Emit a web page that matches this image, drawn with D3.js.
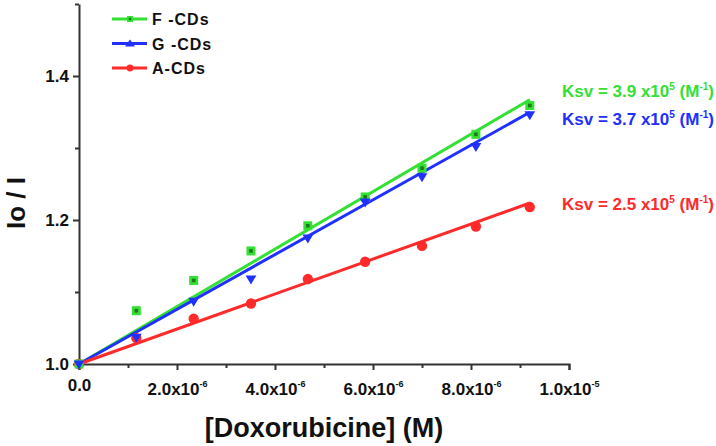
<!DOCTYPE html>
<html>
<head>
<meta charset="utf-8">
<script src="https://cdn.jsdelivr.net/npm/d3@7"></script>
<style>
  body { margin: 0; background: #fff; }
  svg { display: block; font-family: Arial, "Liberation Sans", sans-serif; }
</style>
</head>
<body>
<div id="chart"></div>
<script>
// --- Data ---
const concentration = [0, 1.17e-6, 2.34e-6, 3.51e-6, 4.67e-6, 5.84e-6, 7.0e-6, 8.1e-6, 9.2e-6];
const fCDs = [1.0, 1.074, 1.116, 1.157, 1.192, 1.232, 1.272, 1.319, 1.359];
const gCDs = [1.0, 1.037, 1.087, 1.118, 1.175, 1.225, 1.26, 1.302, 1.346];
const aCDs = [1.0, 1.036, 1.063, 1.084, 1.118, 1.142, 1.164, 1.191, 1.218];
const seriesNames = ["F -CDs", "G -CDs", "A-CDs"];
const fitSlopes = [3.99e4, 3.8e4, 2.43e4]; // slope of drawn fit lines (per M)
const ksvValues = ["3.9", "3.7", "2.5"];
const xTicks = [0, 2e-6, 4e-6, 6e-6, 8e-6, 1e-5];
const yTicks = [1.0, 1.2, 1.4];

const W = 716, H = 446;
const colors = ["#33e033", "#2030ff", "#ff2a2a"];
const values = [fCDs, gCDs, aCDs];

const svg = d3.select("#chart").append("svg")
    .attr("width", W)
    .attr("height", H);

const x = d3.scaleLinear().domain([0, 1e-5]).range([79, 569]);
const y = d3.scaleLinear().domain([1.0, 1.5]).range([364, 4]);

// --- Axes ---
const axisColor = "#333";

// minor ticks first
svg.append("g")
    .attr("transform", "translate(0,364)")
    .call(d3.axisBottom(x).tickValues(d3.range(1e-6, 1e-5, 2e-6)).tickSize(4).tickFormat(""))
    .call(g => g.select(".domain").remove())
    .selectAll("line").attr("stroke", axisColor).attr("stroke-width", 2);

svg.append("g")
    .attr("transform", "translate(79,0)")
    .call(d3.axisLeft(y).tickValues([1.1, 1.3, 1.5]).tickSize(4).tickFormat(""))
    .call(g => g.select(".domain").remove())
    .selectAll("line").attr("stroke", axisColor).attr("stroke-width", 2);

const xAxis = svg.append("g")
    .attr("transform", "translate(0,364)")
    .call(d3.axisBottom(x).tickValues(xTicks).tickSizeOuter(0).tickSize(6).tickFormat(""));

xAxis.select(".domain").attr("stroke", axisColor).attr("stroke-width", 2);
xAxis.selectAll(".tick line").attr("stroke", axisColor).attr("stroke-width", 2);

xAxis.selectAll(".tick").append("text")
    .attr("y", 31)
    .attr("fill", "#111")
    .attr("font-size", 17)
    .attr("font-weight", "bold")
    .attr("text-anchor", "middle")
    .each(function(d) {
        const t = d3.select(this);
        if (d === 0) {
            t.attr("y", 27).text("0.0");
            return;
        }
        const exp = Math.floor(Math.log10(d) + 1e-9);
        const mant = d / Math.pow(10, exp);
        t.append("tspan").text(mant.toFixed(1) + "x10");
        t.append("tspan").attr("font-size", 9).attr("dy", -8).text(exp);
    });

const yAxis = svg.append("g")
    .attr("transform", "translate(79,0)")
    .call(d3.axisLeft(y).tickValues(yTicks).tickSize(6).tickSizeOuter(0).tickFormat(d3.format(".1f")));

yAxis.select(".domain").attr("stroke", axisColor).attr("stroke-width", 2);
yAxis.selectAll(".tick line").attr("stroke", axisColor).attr("stroke-width", 2);
yAxis.selectAll(".tick text")
    .attr("x", -10)
    .attr("fill", "#111")
    .attr("font-size", 17)
    .attr("font-weight", "bold")
    .attr("font-family", "Arial, 'Liberation Sans', sans-serif");

// axis titles
svg.append("text")
    .attr("x", 324)
    .attr("y", 437)
    .attr("text-anchor", "middle")
    .attr("font-size", 27)
    .attr("font-weight", "bold")
    .attr("fill", "#111")
    .text("[Doxorubicine] (M)");

svg.append("text")
    .attr("transform", "translate(25,203) rotate(-90)")
    .attr("text-anchor", "middle")
    .attr("font-size", 26)
    .attr("font-weight", "bold")
    .attr("fill", "#111")
    .text("Io / I");

// --- Fit lines ---
const xMax = d3.max(concentration);
fitSlopes.forEach((k, i) => {
    svg.append("line")
        .attr("x1", x(0)).attr("y1", y(1.0))
        .attr("x2", x(xMax)).attr("y2", y(1.0 + k * xMax))
        .attr("stroke", colors[i])
        .attr("stroke-width", 3);
});

// --- Markers ---
function drawMarker(g, i, cx, cy, s) {
    if (i === 0) {
        g.append("rect")
            .attr("x", cx - s).attr("y", cy - s)
            .attr("width", 2 * s).attr("height", 2 * s)
            .attr("fill", colors[0]);
        g.append("rect")
            .attr("x", cx - s / 2.5).attr("y", cy - s / 2.5)
            .attr("width", 2 * s / 2.5).attr("height", 2 * s / 2.5)
            .attr("fill", "#1a7a1a");
    } else if (i === 1) {
        g.append("path")
            .attr("d", `M${cx - s * 1.2},${cy - s * 0.8}L${cx + s * 1.2},${cy - s * 0.8}L${cx},${cy + s * 1.2}Z`)
            .attr("fill", colors[1]);
    } else {
        g.append("circle")
            .attr("cx", cx).attr("cy", cy).attr("r", s * 1.15)
            .attr("fill", colors[2]);
    }
}

const marks = svg.append("g");
[2, 0, 1].forEach(i => {
    values[i].forEach((v, j) => drawMarker(marks, i, x(concentration[j]), y(v), 4.5));
});

// --- Legend ---
const legend = svg.append("g");
seriesNames.forEach((name, i) => {
    const ly = 19 + i * 24.5;
    legend.append("line")
        .attr("x1", 112).attr("x2", 147)
        .attr("y1", ly).attr("y2", ly)
        .attr("stroke", colors[i]).attr("stroke-width", 3);
    if (i === 1) {
        legend.append("path")
            .attr("d", `M${125},${ly + 3}L${135},${ly + 3}L${130},${ly - 4}Z`)
            .attr("fill", colors[1]);
    } else {
        drawMarker(legend, i, 130, ly, 3);
    }
    legend.append("text")
        .attr("x", 152)
        .attr("y", ly + 6)
        .attr("font-size", 16)
        .attr("font-weight", "bold")
        .attr("letter-spacing", 1)
        .attr("fill", "#111")
        .text(name);
});

// --- Ksv annotations ---
const ksvBaseline = [97, 125, 210];
ksvValues.forEach((k, i) => {
    const t = svg.append("text")
        .attr("x", 562)
        .attr("y", ksvBaseline[i])
        .attr("font-size", 17)
        .attr("font-weight", "bold")
        .attr("fill", colors[i]);
    t.append("tspan").text(`Ksv = ${k} x10`);
    t.append("tspan").attr("font-size", 10).attr("dy", -7).text("5");
    t.append("tspan").attr("dy", 7).text("  (M");
    t.append("tspan").attr("font-size", 10).attr("dy", -7).text("-1");
    t.append("tspan").attr("dy", 7).text(")");
});
</script>
</body>
</html>
